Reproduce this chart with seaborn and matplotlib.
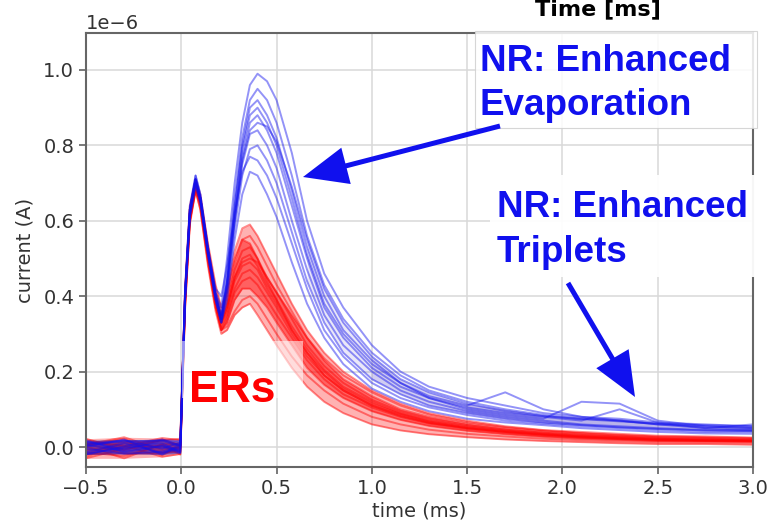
import numpy as np
import pandas as pd
import matplotlib
matplotlib.use("Agg")
import matplotlib.pyplot as plt
from matplotlib.patches import Rectangle
import seaborn as sns

# ---------------- data (current in units of 1e-6 A) ----------------
time_ms = [-0.5, -0.3, -0.1, -0.005, 0.02, 0.045, 0.075, 0.10, 0.14, 0.18, 0.21,
           0.24, 0.28, 0.32, 0.36, 0.40, 0.45, 0.50, 0.58, 0.66, 0.75, 0.85,
           1.00, 1.15, 1.30, 1.50, 1.70, 1.90, 2.10, 2.30, 2.50, 2.75, 3.00]

er_01 = [0.022, -0.008, 0.020, 0.004, 0.42, 0.64, 0.71, 0.67, 0.54, 0.43, 0.37, 0.42, 0.52, 0.58, 0.59, 0.56, 0.51, 0.46, 0.38, 0.31, 0.25, 0.20, 0.15, 0.115, 0.09, 0.07, 0.055, 0.045, 0.04, 0.035, 0.03, 0.028, 0.025]
er_02 = [-0.020, 0.016, -0.014, -0.006, 0.40, 0.63, 0.70, 0.66, 0.53, 0.41, 0.35, 0.40, 0.49, 0.55, 0.56, 0.53, 0.48, 0.43, 0.36, 0.29, 0.23, 0.18, 0.135, 0.10, 0.08, 0.062, 0.05, 0.042, 0.036, 0.03, 0.026, 0.024, 0.022]
er_03 = [0.004, 0.022, -0.022, 0.002, 0.41, 0.62, 0.69, 0.65, 0.52, 0.40, 0.34, 0.38, 0.47, 0.52, 0.53, 0.50, 0.45, 0.41, 0.34, 0.27, 0.215, 0.17, 0.125, 0.095, 0.075, 0.058, 0.046, 0.038, 0.032, 0.028, 0.024, 0.022, 0.02]
er_04 = [-0.014, -0.024, 0.006, -0.020, 0.39, 0.62, 0.70, 0.66, 0.52, 0.40, 0.33, 0.37, 0.45, 0.50, 0.51, 0.48, 0.43, 0.39, 0.32, 0.26, 0.205, 0.16, 0.12, 0.09, 0.07, 0.055, 0.044, 0.036, 0.03, 0.026, 0.022, 0.02, 0.018]
er_05 = [0.018, 0.002, 0.024, 0.018, 0.40, 0.61, 0.69, 0.65, 0.51, 0.39, 0.33, 0.36, 0.44, 0.48, 0.49, 0.47, 0.42, 0.38, 0.31, 0.25, 0.20, 0.155, 0.115, 0.088, 0.068, 0.052, 0.042, 0.034, 0.028, 0.024, 0.02, 0.018, 0.017]
er_06 = [-0.026, 0.010, -0.002, -0.002, 0.38, 0.60, 0.68, 0.64, 0.50, 0.38, 0.32, 0.35, 0.42, 0.46, 0.47, 0.45, 0.41, 0.37, 0.30, 0.24, 0.19, 0.15, 0.11, 0.085, 0.065, 0.05, 0.04, 0.032, 0.026, 0.022, 0.019, 0.017, 0.016]
er_07 = [0.002, -0.030, 0.008, 0.010, 0.39, 0.61, 0.70, 0.65, 0.50, 0.38, 0.31, 0.34, 0.41, 0.44, 0.45, 0.43, 0.39, 0.35, 0.29, 0.23, 0.18, 0.14, 0.105, 0.08, 0.062, 0.048, 0.038, 0.03, 0.025, 0.021, 0.018, 0.016, 0.015]
er_08 = [0.012, 0.004, -0.026, -0.018, 0.37, 0.60, 0.69, 0.64, 0.49, 0.37, 0.31, 0.33, 0.39, 0.42, 0.42, 0.40, 0.37, 0.33, 0.27, 0.21, 0.165, 0.13, 0.095, 0.072, 0.056, 0.043, 0.034, 0.027, 0.022, 0.019, 0.016, 0.015, 0.014]
er_09 = [-0.030, -0.004, 0.004, 0.006, 0.38, 0.60, 0.68, 0.63, 0.49, 0.37, 0.31, 0.32, 0.36, 0.39, 0.40, 0.38, 0.34, 0.30, 0.24, 0.19, 0.15, 0.115, 0.08, 0.06, 0.046, 0.035, 0.028, 0.022, 0.018, 0.015, 0.013, 0.012, 0.011]
er_10 = [0.006, 0.026, -0.008, 0.0, 0.41, 0.63, 0.71, 0.66, 0.52, 0.40, 0.34, 0.41, 0.50, 0.55, 0.54, 0.50, 0.44, 0.39, 0.31, 0.25, 0.19, 0.15, 0.11, 0.082, 0.064, 0.05, 0.04, 0.033, 0.027, 0.023, 0.02, 0.018, 0.016]
er_11 = [-0.008, 0.0, 0.018, 0.022, 0.40, 0.62, 0.70, 0.65, 0.51, 0.39, 0.33, 0.37, 0.45, 0.49, 0.50, 0.49, 0.45, 0.41, 0.35, 0.29, 0.235, 0.19, 0.145, 0.11, 0.086, 0.066, 0.053, 0.044, 0.037, 0.032, 0.028, 0.026, 0.024]
er_12 = [0.010, -0.018, -0.016, -0.012, 0.37, 0.59, 0.68, 0.63, 0.48, 0.36, 0.30, 0.31, 0.35, 0.37, 0.38, 0.35, 0.31, 0.27, 0.21, 0.16, 0.12, 0.09, 0.06, 0.044, 0.034, 0.026, 0.02, 0.016, 0.013, 0.01, 0.008, 0.008, 0.006]

nr_01 = [0.014, -0.006, 0.016, 0.002, 0.42, 0.64, 0.72, 0.67, 0.53, 0.41, 0.37, 0.50, 0.70, 0.86, 0.96, 0.99, 0.97, 0.92, 0.78, 0.60, 0.46, 0.37, 0.27, 0.20, 0.16, 0.13, 0.11, 0.09, 0.08, 0.075, 0.065, 0.06, 0.055]
nr_02 = [-0.014, 0.010, -0.016, -0.004, 0.41, 0.63, 0.71, 0.66, 0.52, 0.40, 0.35, 0.46, 0.66, 0.82, 0.92, 0.95, 0.92, 0.86, 0.72, 0.56, 0.43, 0.34, 0.25, 0.19, 0.15, 0.12, 0.10, 0.085, 0.075, 0.07, 0.06, 0.055, 0.05]
nr_03 = [0.004, 0.018, -0.004, 0.012, 0.40, 0.63, 0.71, 0.66, 0.52, 0.40, 0.34, 0.44, 0.64, 0.80, 0.90, 0.92, 0.88, 0.82, 0.68, 0.53, 0.40, 0.31, 0.23, 0.17, 0.135, 0.11, 0.145, 0.10, 0.08, 0.07, 0.06, 0.05, 0.045]
nr_04 = [-0.018, -0.002, 0.010, -0.014, 0.41, 0.62, 0.70, 0.66, 0.52, 0.40, 0.34, 0.43, 0.61, 0.77, 0.86, 0.88, 0.84, 0.78, 0.64, 0.50, 0.37, 0.29, 0.21, 0.16, 0.13, 0.10, 0.085, 0.075, 0.12, 0.115, 0.07, 0.055, 0.05]
nr_05 = [0.010, 0.014, 0.018, 0.016, 0.40, 0.62, 0.70, 0.65, 0.51, 0.39, 0.33, 0.42, 0.60, 0.75, 0.83, 0.84, 0.80, 0.74, 0.60, 0.47, 0.35, 0.27, 0.20, 0.15, 0.12, 0.095, 0.08, 0.07, 0.06, 0.055, 0.05, 0.045, 0.045]
nr_06 = [-0.004, -0.018, -0.012, 0.0, 0.39, 0.61, 0.70, 0.65, 0.51, 0.39, 0.33, 0.41, 0.58, 0.72, 0.79, 0.80, 0.76, 0.70, 0.57, 0.44, 0.33, 0.25, 0.18, 0.14, 0.11, 0.09, 0.075, 0.065, 0.058, 0.052, 0.048, 0.044, 0.042]
nr_07 = [0.018, -0.014, 0.002, -0.016, 0.40, 0.62, 0.71, 0.66, 0.52, 0.42, 0.40, 0.48, 0.62, 0.73, 0.77, 0.76, 0.72, 0.66, 0.54, 0.42, 0.31, 0.24, 0.17, 0.13, 0.105, 0.085, 0.07, 0.062, 0.055, 0.05, 0.045, 0.04, 0.04]
nr_08 = [-0.020, 0.002, 0.020, 0.004, 0.39, 0.61, 0.69, 0.65, 0.51, 0.39, 0.33, 0.39, 0.55, 0.67, 0.73, 0.72, 0.67, 0.61, 0.49, 0.38, 0.29, 0.22, 0.155, 0.12, 0.095, 0.075, 0.065, 0.058, 0.05, 0.045, 0.04, 0.036, 0.035]
nr_09 = [0.0, 0.020, -0.020, 0.008, 0.41, 0.63, 0.72, 0.67, 0.53, 0.41, 0.35, 0.43, 0.60, 0.76, 0.84, 0.86, 0.85, 0.81, 0.69, 0.55, 0.42, 0.33, 0.24, 0.18, 0.145, 0.115, 0.095, 0.082, 0.074, 0.068, 0.062, 0.058, 0.055]
nr_10 = [0.006, -0.010, 0.004, -0.010, 0.40, 0.63, 0.71, 0.66, 0.52, 0.40, 0.34, 0.44, 0.63, 0.79, 0.88, 0.90, 0.86, 0.80, 0.66, 0.51, 0.38, 0.30, 0.22, 0.17, 0.13, 0.105, 0.09, 0.08, 0.07, 0.10, 0.065, 0.05, 0.06]

x_ticks = [-0.5, 0.0, 0.5, 1.0, 1.5, 2.0, 2.5, 3.0]
y_ticks = [0.0, 0.2, 0.4, 0.6, 0.8, 1.0]
x_label = "time (ms)"
y_label = "current (A)"
top_label = "Time [ms]"
er_label = "ERs"
nr1_lines = ["NR: Enhanced", "Evaporation"]
nr2_lines = ["NR: Enhanced", "Triplets"]

er_traces = [er_01, er_02, er_03, er_04, er_05, er_06, er_07, er_08, er_09, er_10, er_11, er_12]
nr_traces = [nr_01, nr_02, nr_03, nr_04, nr_05, nr_06, nr_07, nr_08, nr_09, nr_10]

SCALE = 1e-6

def to_long(traces, kind):
    rows = []
    for i, tr in enumerate(traces):
        for t, v in zip(time_ms, tr):
            rows.append((kind, f"{kind}{i}", t, v * SCALE))
    return pd.DataFrame(rows, columns=["kind", "trace", "time", "current"])

df_er = to_long(er_traces, "ER")
df_nr = to_long(nr_traces, "NR")

# ---------------- figure ----------------
sns.set_style("ticks")
plt.rcParams["font.family"] = ["DejaVu Sans"]
W, H = 773, 527
fig = plt.figure(figsize=(W / 100, H / 100), dpi=100)
ax = fig.add_axes([86 / W, 1 - 467 / H, (753 - 86) / W, (467 - 33) / H])

RED = "#ff0000"
BLUE = "#1010ee"
t_arr = np.array(time_ms)

er_arr = np.sort(np.array(er_traces) * SCALE, axis=0)
ax.fill_between(t_arr, er_arr[0], er_arr[-1], color=RED, alpha=0.3, lw=0, zorder=1.5)
ax.fill_between(t_arr, er_arr[2], er_arr[-3], color=RED, alpha=0.45, lw=0, zorder=1.6)
sns.lineplot(data=df_er, x="time", y="current", units="trace", estimator=None,
             color=RED, alpha=0.45, lw=1.4, sort=False, ax=ax, legend=False, zorder=2)

nr_arr = np.sort(np.array(nr_traces) * SCALE, axis=0)
pre = t_arr <= -0.005
ax.fill_between(t_arr, nr_arr[0], nr_arr[-1], where=pre, color="#2a18c0",
                alpha=0.55, lw=0, zorder=2.2)
for t0, a in [(0.66, 0.10), (1.0, 0.12), (1.5, 0.14)]:
    ax.fill_between(t_arr, nr_arr[2], nr_arr[-3], where=t_arr >= t0,
                    color="#2a18c0", alpha=a, lw=0, zorder=2.2)
sns.lineplot(data=df_nr, x="time", y="current", units="trace", estimator=None,
             color=BLUE, alpha=0.45, lw=1.4, sort=False, ax=ax, legend=False, zorder=2.5)

ax.set_xlim(-0.5, 3.0)
ax.set_ylim(-0.053e-6, 1.098e-6)
ax.set_xticks(x_ticks)
ax.set_yticks([v * SCALE for v in y_ticks])
ax.grid(True, color="#d9d9d9", lw=1.1)
ax.set_axisbelow(True)
for s in ax.spines.values():
    s.set_color("#666666")
    s.set_linewidth(1.5)
ax.tick_params(axis="both", labelsize=14, colors="#333333", length=5, width=1.1,
               color="#555555")
ax.yaxis.get_offset_text().set_fontsize(14)
ax.yaxis.get_offset_text().set_color("#333333")
ax.set_xlabel(x_label, fontsize=14, color="#333333", labelpad=3)
ax.set_ylabel(y_label, fontsize=14, color="#333333", labelpad=6)

# ERs label with translucent white patch
ax.add_patch(Rectangle((0.005, 0.13e-6), 0.635, 0.151e-6, facecolor="white",
                       edgecolor="none", alpha=0.55, zorder=3))
ax.text(0.042, 0.119e-6, er_label, color=RED, fontsize=32, fontweight="bold",
        family="Liberation Sans", ha="left", va="baseline", zorder=4)

def fx(px):
    return px / W

def fy(py):
    return 1 - py / H

# white boxes behind pasted annotations
fig.add_artist(Rectangle((fx(475), fy(128)), fx(757) - fx(475), fy(31) - fy(128),
                         transform=fig.transFigure, facecolor="white",
                         edgecolor="#cfcfcf", lw=0.8, alpha=0.85, zorder=5))
fig.add_artist(Rectangle((fx(490), fy(277)), fx(762) - fx(490), fy(175) - fy(277),
                         transform=fig.transFigure, facecolor="white",
                         edgecolor="none", alpha=0.95, zorder=5))

txt_kw = dict(color=BLUE, fontsize=26.5, fontweight="bold", family="Liberation Sans",
              ha="left", va="baseline", zorder=6)
fig.text(fx(480), fy(71), nr1_lines[0], **txt_kw)
fig.text(fx(480), fy(115), nr1_lines[1], **txt_kw)
fig.text(fx(497), fy(217), nr2_lines[0], **txt_kw)
fig.text(fx(497), fy(262), nr2_lines[1], **txt_kw)

fig.text(fx(598), fy(9), top_label, fontsize=16, fontweight="bold", color="black",
         ha="center", va="center", zorder=6)

# overlay axes for arrows (drawn above the annotation boxes)
ov = fig.add_axes([0, 0, 1, 1], zorder=10)
ov.set_axis_off()
ov.patch.set_alpha(0)
ov.set_xlim(0, W)
ov.set_ylim(H, 0)
arrow_kw = dict(facecolor=BLUE, edgecolor="none", width=3.6, headwidth=27,
                headlength=32, shrink=0)
ov.annotate("", xy=(303, 177), xytext=(500, 126), arrowprops=arrow_kw)
ov.annotate("", xy=(635, 397), xytext=(568, 283), arrowprops=arrow_kw)

fig.savefig("out.png", dpi=100)
